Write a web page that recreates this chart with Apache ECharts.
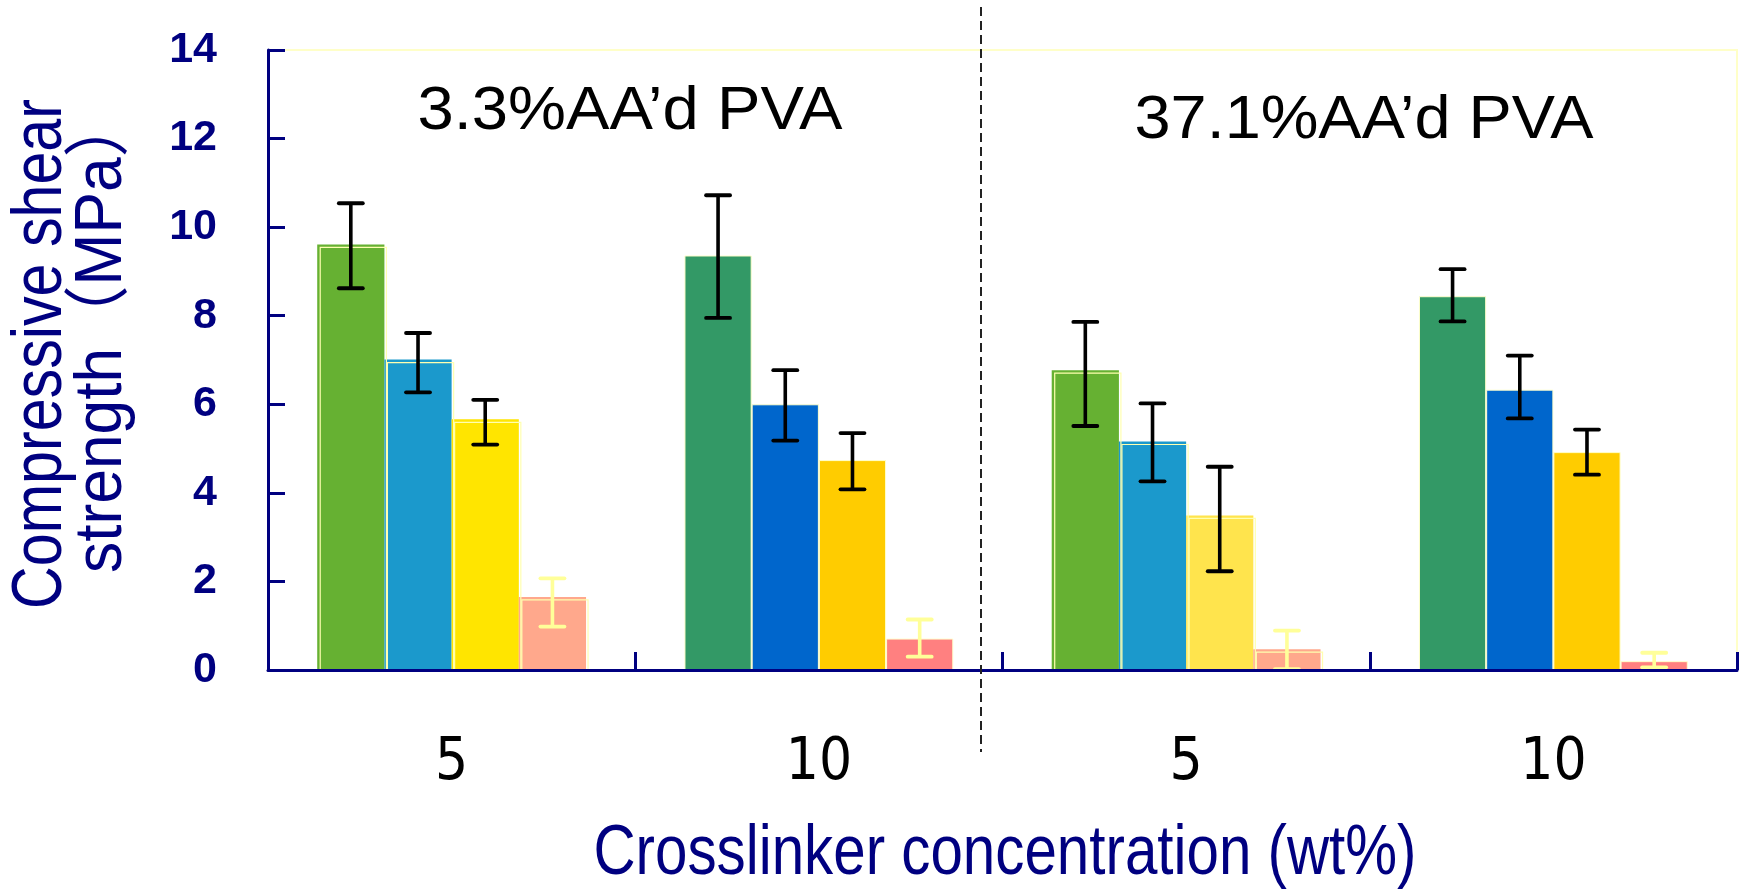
<!DOCTYPE html>
<html><head><meta charset="utf-8">
<script src="https://cdn.jsdelivr.net/npm/echarts@6/dist/echarts.min.js"></script>
<style>html,body{margin:0;padding:0;background:#fff}#c{width:1744px;height:892px}</style>
</head><body><div id="c"></div>
<script>
// ---- data ----
const categories = ['5', '10', '5', '10'];
const groupTitles = ['3.3%AA’d PVA', '37.1%AA’d PVA'];
const yTitleLines = ['Compressive shear', 'strength（MPa）'];
const xTitle = 'Crosslinker concentration (wt%)';
const yMin = 0, yMax = 14, yInterval = 2;

const mean1 = [9.61, 9.36, 6.77, 8.44];
const mean2 = [7.01, 6.00, 5.16, 6.33];
const mean3 = [5.66, 4.74, 3.49, 4.92];
const mean4 = [1.65, 0.71, 0.47, 0.20];

const high1 = [10.54, 10.72, 7.86, 9.05];
const high2 = [7.61, 6.77, 6.02, 7.10];
const high3 = [6.10, 5.35, 4.59, 5.43];
const high4 = [2.07, 1.14, 0.89, 0.39];

const low1 = [8.62, 7.95, 5.51, 7.87];
const low2 = [6.27, 5.18, 4.26, 5.68];
const low3 = [5.09, 4.08, 2.23, 4.41];
const low4 = [0.98, 0.30, 0.02, 0.06];

// ---- styles ----
const col1 = ['#66B132', '#339966', '#66B132', '#339966'];
const col2 = ['#1B99CC', '#0066CC', '#1B99CC', '#0066CC'];
const col3 = ['#FFE500', '#FFCC00', '#FFE44D', '#FFCC00'];
const col4 = ['#FFA88C', '#FF8080', '#FFA88C', '#FF8080'];
const outlinedGroups = [true, false, true, false];
const NAVY = '#000080';
const BAR_FRAC = 0.183;

const means = [mean1, mean2, mean3, mean4];
const highs = [high1, high2, high3, high4];
const lows = [low1, low2, low3, low4];
const cols = [col1, col2, col3, col4];

function barSeries(k) {
  return {
    type: 'bar',
    barWidth: (BAR_FRAC * 100) + '%',
    barGap: '0%',
    z: 2,
    data: means[k].map((v, i) => ({
      value: v,
      itemStyle: {
        color: cols[k][i],
        borderColor: outlinedGroups[i] ? 'transparent' : '#FFFFCC',
        borderWidth: outlinedGroups[i] ? 0 : 1
      }
    }))
  };
}

const errData = [];
for (let i = 0; i < categories.length; i++) {
  for (let k = 0; k < 4; k++) {
    errData.push([i, k, lows[k][i], highs[k][i], means[k][i]]);
  }
}

function renderErr(params, api) {
  const i = api.value(0), k = api.value(1);
  const lo = api.value(2), hi = api.value(3), m = api.value(4);
  const band = api.size([1, 0])[0];
  const bw = band * BAR_FRAC;
  const cx = api.coord([i, 0])[0] + (k - 1.5) * bw;
  const yHi = api.coord([i, hi])[1];
  const yLo = api.coord([i, lo])[1];
  const yM = api.coord([i, m])[1];
  const y0 = api.coord([i, 0])[1];
  const color = k === 3 ? '#FFFF99' : '#000000';
  const cap = 12;
  const children = [];
  if (outlinedGroups[i]) {
    children.push({
      type: 'rect',
      shape: { x: cx - bw / 2 + 3, y: yM + 3, width: bw - 1, height: y0 - yM - 3 },
      style: { fill: null, stroke: '#FFFFB0', lineWidth: 1.2 }
    });
  }
  children.push(
    { type: 'line', shape: { x1: cx, y1: yHi, x2: cx, y2: yLo }, style: { stroke: color, lineWidth: 3.6 } },
    { type: 'line', shape: { x1: cx - cap, y1: yHi, x2: cx + cap, y2: yHi }, style: { stroke: color, lineWidth: 3.8, lineCap: 'round' } },
    { type: 'line', shape: { x1: cx - cap, y1: yLo, x2: cx + cap, y2: yLo }, style: { stroke: color, lineWidth: 3.8, lineCap: 'round' } }
  );
  return { type: 'group', children };
}

function fitScale(text, size, weight, family, target) {
  const ctx = document.createElement('canvas').getContext('2d');
  ctx.font = weight + ' ' + size + 'px ' + family;
  return target / ctx.measureText(text).width;
}

const TFONT = '"Liberation Sans", Arial, "Noto Sans CJK JP", sans-serif';

function textEl(text, x, y, size, color, targetW, rot) {
  const s = targetW ? fitScale(text, size, 'normal', TFONT, targetW) : 1;
  return {
    type: 'text', x: x, y: y, rotation: rot || 0, scaleX: s, z: 20,
    style: { text: text, fontSize: size, fontFamily: TFONT, fill: color, align: 'center', verticalAlign: 'middle' }
  };
}

const chart = echarts.init(document.getElementById('c'), null, { renderer: 'canvas' });
const option = {
  backgroundColor: '#ffffff',
  animation: false,
  grid: { left: 268, right: 7, top: 50, bottom: 222, show: true, borderColor: '#FFFFC8', borderWidth: 2, backgroundColor: 'transparent' },
  xAxis: {
    type: 'category',
    data: categories,
    z: 10,
    axisLine: { lineStyle: { color: NAVY, width: 3 } },
    axisTick: { show: true, inside: true, length: 18, lineStyle: { color: NAVY, width: 3 } },
    axisLabel: { color: '#000', fontSize: 58, margin: 65, fontFamily: '"Liberation Sans Narrow", "DejaVu Sans Condensed", "Liberation Sans", sans-serif' },
    splitLine: { show: false }
  },
  yAxis: {
    type: 'value', min: yMin, max: yMax, interval: yInterval,
    z: 10,
    axisLine: { show: true, lineStyle: { color: NAVY, width: 3 } },
    axisTick: { show: true, inside: true, length: 17, lineStyle: { color: NAVY, width: 3 } },
    axisLabel: { color: NAVY, fontSize: 43, fontWeight: 'bold', margin: 51, fontFamily: '"Liberation Sans", Arial, sans-serif' },
    splitLine: { show: false }
  },
  series: [
    barSeries(0), barSeries(1), barSeries(2), barSeries(3),
    { type: 'custom', renderItem: renderErr, data: errData, z: 5, silent: true,
      encode: { x: 0, y: [2, 3] } }
  ],
  graphic: [
    textEl(groupTitles[0], 630, 112, 61, '#000', 425),
    textEl(groupTitles[1], 1364, 121, 61, '#000', 459),
    textEl(xTitle, 1005, 855, 70, NAVY, 823),
    textEl(yTitleLines[0], 42, 354, 70, NAVY, 510, Math.PI / 2),
    textEl(yTitleLines[1], 103, 334, 66, NAVY, 478, Math.PI / 2),
    { type: 'line', z: 30, shape: { x1: 981, y1: 7, x2: 981, y2: 752 }, style: { stroke: '#222', lineWidth: 2, lineDash: [9, 5] } }
  ]
};
chart.setOption(option);
</script></body></html>
